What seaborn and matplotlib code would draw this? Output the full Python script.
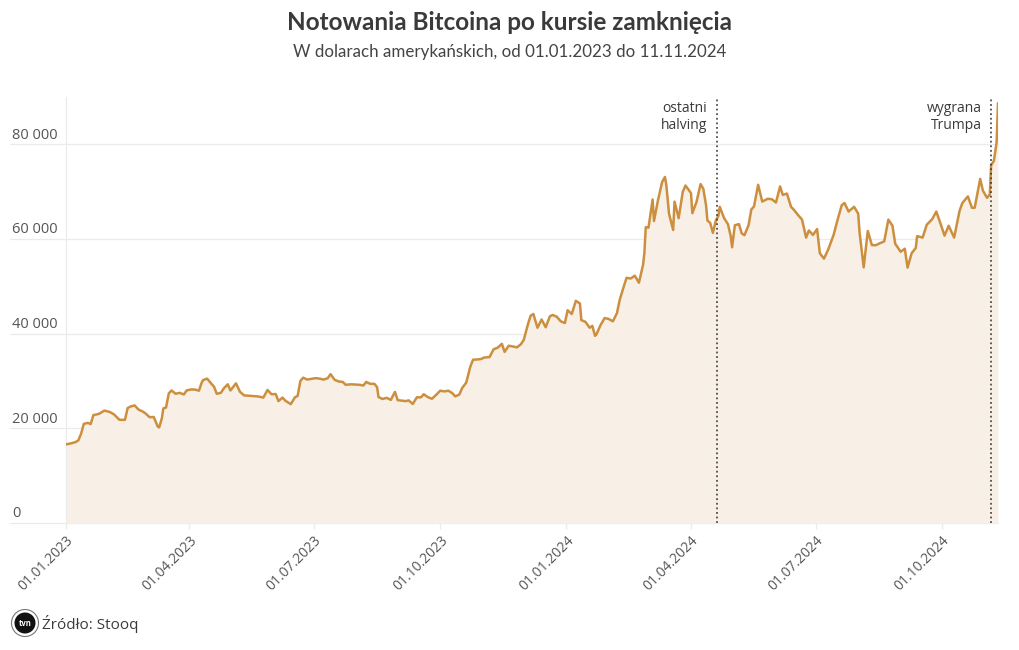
import matplotlib
matplotlib.use("Agg")
import matplotlib.pyplot as plt
import matplotlib.dates as mdates
from matplotlib.patches import Ellipse
import seaborn as sns
import pandas as pd

dates_2023 = [
    "2023-01-01", "2023-01-05", "2023-01-08", "2023-01-10", "2023-01-12", "2023-01-14", "2023-01-17", "2023-01-19",
    "2023-01-21", "2023-01-25", "2023-01-29", "2023-02-02", "2023-02-05", "2023-02-09", "2023-02-13", "2023-02-15",
    "2023-02-17", "2023-02-20", "2023-02-23", "2023-02-26", "2023-02-28", "2023-03-03", "2023-03-06", "2023-03-09",
    "2023-03-10", "2023-03-12", "2023-03-13", "2023-03-15", "2023-03-17", "2023-03-19", "2023-03-22", "2023-03-25",
    "2023-03-28", "2023-03-30", "2023-04-02", "2023-04-05", "2023-04-08", "2023-04-10", "2023-04-11", "2023-04-14",
    "2023-04-17", "2023-04-19", "2023-04-21", "2023-04-24", "2023-04-26", "2023-04-29", "2023-05-01", "2023-05-05",
    "2023-05-08", "2023-05-11", "2023-05-14", "2023-05-18", "2023-05-21", "2023-05-25", "2023-05-28", "2023-05-31",
    "2023-06-03", "2023-06-05", "2023-06-08", "2023-06-10", "2023-06-14", "2023-06-17", "2023-06-19", "2023-06-21",
    "2023-06-23", "2023-06-26", "2023-06-29", "2023-07-02", "2023-07-05", "2023-07-08", "2023-07-11", "2023-07-13",
    "2023-07-16", "2023-07-19", "2023-07-22", "2023-07-24", "2023-07-28", "2023-07-31", "2023-08-03", "2023-08-06",
    "2023-08-08", "2023-08-11", "2023-08-14", "2023-08-16", "2023-08-17", "2023-08-20", "2023-08-23", "2023-08-26",
    "2023-08-29", "2023-08-31", "2023-09-03", "2023-09-06", "2023-09-08", "2023-09-11", "2023-09-14", "2023-09-17",
    "2023-09-19", "2023-09-22", "2023-09-25", "2023-09-28", "2023-10-01", "2023-10-04", "2023-10-07", "2023-10-10",
    "2023-10-12", "2023-10-15", "2023-10-17", "2023-10-20", "2023-10-23", "2023-10-25", "2023-10-28", "2023-10-31",
    "2023-11-02", "2023-11-06", "2023-11-09", "2023-11-12", "2023-11-15", "2023-11-17", "2023-11-20", "2023-11-23",
    "2023-11-26", "2023-11-29", "2023-12-01", "2023-12-04", "2023-12-06", "2023-12-08", "2023-12-11", "2023-12-14",
    "2023-12-17", "2023-12-20", "2023-12-22", "2023-12-25", "2023-12-28", "2023-12-31",
]
close_2023 = [
    16600, 16850, 17100, 17450, 18850, 20950, 21150, 20900,
    22800, 23050, 23750, 23450, 22950, 21800, 21800, 24300,
    24600, 24850, 23950, 23550, 23150, 22350, 22400, 20350,
    20200, 22200, 24200, 24400, 27400, 28000, 27300, 27500,
    27150, 28000, 28200, 28200, 27950, 29650, 30200, 30500,
    29450, 28800, 27300, 27500, 28400, 29300, 28000, 29500,
    27700, 26950, 26900, 26800, 26750, 26500, 28100, 27200,
    27250, 25750, 26500, 25850, 25100, 26550, 26850, 30000,
    30700, 30300, 30450, 30600, 30500, 30300, 30600, 31450,
    30250, 29900, 29800, 29200, 29300, 29250, 29200, 29050,
    29800, 29400, 29400, 28700, 26600, 26200, 26450, 26000,
    27700, 25950, 25850, 25750, 25900, 25150, 26550, 26550,
    27200, 26600, 26250, 27050, 27950, 27800, 27950, 27400,
    26750, 27150, 28500, 29650, 33050, 34500, 34550, 34650,
    34950, 35050, 36700, 37050, 37850, 36150, 37450, 37300,
    37100, 37800, 38700, 41950, 43800, 44150, 41250, 43000,
    41350, 43650, 43950, 43600, 42600, 42250,
]
dates_2024 = [
    "2024-01-02", "2024-01-05", "2024-01-08", "2024-01-11", "2024-01-12", "2024-01-15", "2024-01-18", "2024-01-20",
    "2024-01-22", "2024-01-23", "2024-01-26", "2024-01-29", "2024-02-01", "2024-02-04", "2024-02-07", "2024-02-09",
    "2024-02-12", "2024-02-14", "2024-02-17", "2024-02-20", "2024-02-23", "2024-02-26", "2024-02-27", "2024-02-28",
    "2024-03-01", "2024-03-04", "2024-03-05", "2024-03-08", "2024-03-11", "2024-03-13", "2024-03-14", "2024-03-16",
    "2024-03-19", "2024-03-20", "2024-03-23", "2024-03-26", "2024-03-28", "2024-04-01", "2024-04-02", "2024-04-05",
    "2024-04-08", "2024-04-10", "2024-04-12", "2024-04-13", "2024-04-15", "2024-04-17", "2024-04-19", "2024-04-21",
    "2024-04-22", "2024-04-25", "2024-04-28", "2024-04-30", "2024-05-01", "2024-05-03", "2024-05-06", "2024-05-08",
    "2024-05-10", "2024-05-13", "2024-05-15", "2024-05-17", "2024-05-20", "2024-05-23", "2024-05-27", "2024-05-30",
    "2024-06-02", "2024-06-05", "2024-06-07", "2024-06-10", "2024-06-13", "2024-06-15", "2024-06-18", "2024-06-21",
    "2024-06-24", "2024-06-26", "2024-06-29", "2024-07-02", "2024-07-04", "2024-07-07", "2024-07-10", "2024-07-14",
    "2024-07-17", "2024-07-20", "2024-07-22", "2024-07-25", "2024-07-29", "2024-08-01", "2024-08-02", "2024-08-05",
    "2024-08-08", "2024-08-11", "2024-08-14", "2024-08-16", "2024-08-20", "2024-08-23", "2024-08-26", "2024-08-28",
    "2024-09-01", "2024-09-04", "2024-09-06", "2024-09-09", "2024-09-12", "2024-09-13", "2024-09-17", "2024-09-20",
    "2024-09-24", "2024-09-27", "2024-09-30", "2024-10-03", "2024-10-06", "2024-10-10", "2024-10-14", "2024-10-16",
    "2024-10-20", "2024-10-23", "2024-10-25", "2024-10-29", "2024-10-31", "2024-11-03", "2024-11-05", "2024-11-06",
    "2024-11-08", "2024-11-10", "2024-11-11",
]
close_2024 = [
    44950, 44150, 46950, 46350, 42850, 42500, 41250, 41650,
    39550, 39850, 41800, 43300, 43100, 42600, 44350, 47150,
    50000, 51800, 51650, 52250, 50750, 54500, 57050, 62500,
    62400, 68350, 63800, 68300, 72100, 73100, 71400, 65300,
    61900, 67900, 64400, 69950, 71300, 69700, 65450, 67800,
    71600, 70600, 67100, 63900, 63400, 61300, 63800, 64900,
    66800, 64500, 63100, 60600, 58250, 62900, 63150, 61200,
    60800, 62900, 66200, 66900, 71450, 67900, 68500, 68400,
    67700, 71100, 69300, 69600, 66800, 66200, 65100, 64100,
    60300, 61800, 60850, 62100, 57000, 55850, 57700, 60800,
    64100, 67150, 67600, 65800, 66800, 65350, 61400, 54000,
    61700, 58700, 58700, 59000, 59500, 64100, 62800, 59000,
    57300, 57950, 53950, 57000, 58100, 60600, 60300, 63000,
    64200, 65800, 63300, 60700, 62800, 60300, 66000, 67600,
    69000, 66600, 66600, 72700, 70200, 68700, 69400, 75600,
    76500, 80400, 88700,
]

tick_dates = ["2023-01-01", "2023-04-01", "2023-07-01", "2023-10-01",
              "2024-01-01", "2024-04-01", "2024-07-01", "2024-10-01"]
tick_labels = ["01.01.2023", "01.04.2023", "01.07.2023", "01.10.2023",
               "01.01.2024", "01.04.2024", "01.07.2024", "01.10.2024"]
y_ticks = [0, 20000, 40000, 60000, 80000]
y_labels = ["0", "20 000", "40 000", "60 000", "80 000"]

events = ["2024-04-20", "2024-11-06"]
event_labels = ["ostatni\nhalving", "wygrana\nTrumpa"]

title = "Notowania Bitcoina po kursie zamknięcia"
subtitle = "W dolarach amerykańskich, od 01.01.2023 do 11.11.2024"
source = "Źródło: Stooq"

df = pd.DataFrame({
    "date": pd.to_datetime(dates_2023 + dates_2024),
    "close": close_2023 + close_2024,
})

sns.set_theme(style="white")
plt.rcParams["font.family"] = ["Open Sans", "DejaVu Sans"]

LINE = "#cc8f3f"
FILL = "#f8f0e6"
GRID = "#ebebeb"
TXT = "#3a3a3a"

fig = plt.figure(figsize=(10.2, 6.5), dpi=100)
ax = fig.add_axes([66 / 1020, 1 - 523 / 650, 932 / 1020, (523 - 97) / 650])

ax.fill_between(df["date"], df["close"], 0, color=FILL, lw=0, zorder=1)
sns.lineplot(data=df, x="date", y="close", ax=ax, color=LINE, lw=1.8, zorder=3)

ax.set_xlim(pd.Timestamp("2023-01-01"), pd.Timestamp("2024-11-11"))
ax.set_ylim(0, 90000)

# horizontal gridlines extending to the left under labels
xleft = -56 / 932
for yv, lab in zip(y_ticks, y_labels):
    ax.axhline(yv, xmin=xleft, xmax=1, color=GRID, lw=0.9, clip_on=False, zorder=0.5)
    ax.text(xleft + 0.002, yv + 350, lab, transform=ax.get_yaxis_transform(),
            ha="left", va="bottom", fontsize=10.5, color="#555555")
ax.set_yticks([])

for s in ["top", "right", "bottom"]:
    ax.spines[s].set_visible(False)
ax.spines["left"].set_color(GRID)
ax.spines["left"].set_linewidth(0.9)

ax.set_xticks(pd.to_datetime(tick_dates))
ax.set_xticklabels(tick_labels, rotation=45, ha="right", rotation_mode="anchor",
                   fontsize=10, color="#555555")
ax.tick_params(axis="x", length=4, color=GRID, width=0.9, pad=3, bottom=True)
ax.set_xlabel("")
ax.set_ylabel("")

for d, lab in zip(events, event_labels):
    dt = mdates.date2num(pd.Timestamp(d))
    ax.axvline(dt, color="#333333", lw=1.1, ls=(0, (1.2, 1.8)), zorder=4)
    ax.annotate(lab, xy=(dt, 1.0), xycoords=ax.get_xaxis_transform(),
                xytext=(-7, -3), textcoords="offset points",
                ha="right", va="top", fontsize=10, color=TXT, linespacing=1.15)

fig.text(0.5, 1 - 23 / 650, title, ha="center", va="center",
         fontsize=17.5, fontweight="bold", color=TXT, family=["Lato", "DejaVu Sans"])
fig.text(0.5, 1 - 52 / 650, subtitle, ha="center", va="center",
         fontsize=12.2, color="#444444", family=["Lato", "DejaVu Sans"])

# source logo + text
cx, cy = 25 / 1020, 1 - 623 / 650
fig.patches.append(Ellipse((cx, cy), 27 / 1020, 27 / 650, transform=fig.transFigure,
                           facecolor="white", edgecolor="#777777", lw=0.8))
fig.patches.append(Ellipse((cx, cy), 21 / 1020, 21 / 650, transform=fig.transFigure,
                           facecolor="#111111", edgecolor="none"))
fig.text(cx, cy, "tvn", ha="center", va="center",
         fontsize=5.5, fontweight="bold", color="white")
fig.text(42 / 1020, 1 - 624 / 650, source, ha="left", va="center",
         fontsize=11, color=TXT)

fig.savefig("out.png", dpi=100, facecolor="white")
